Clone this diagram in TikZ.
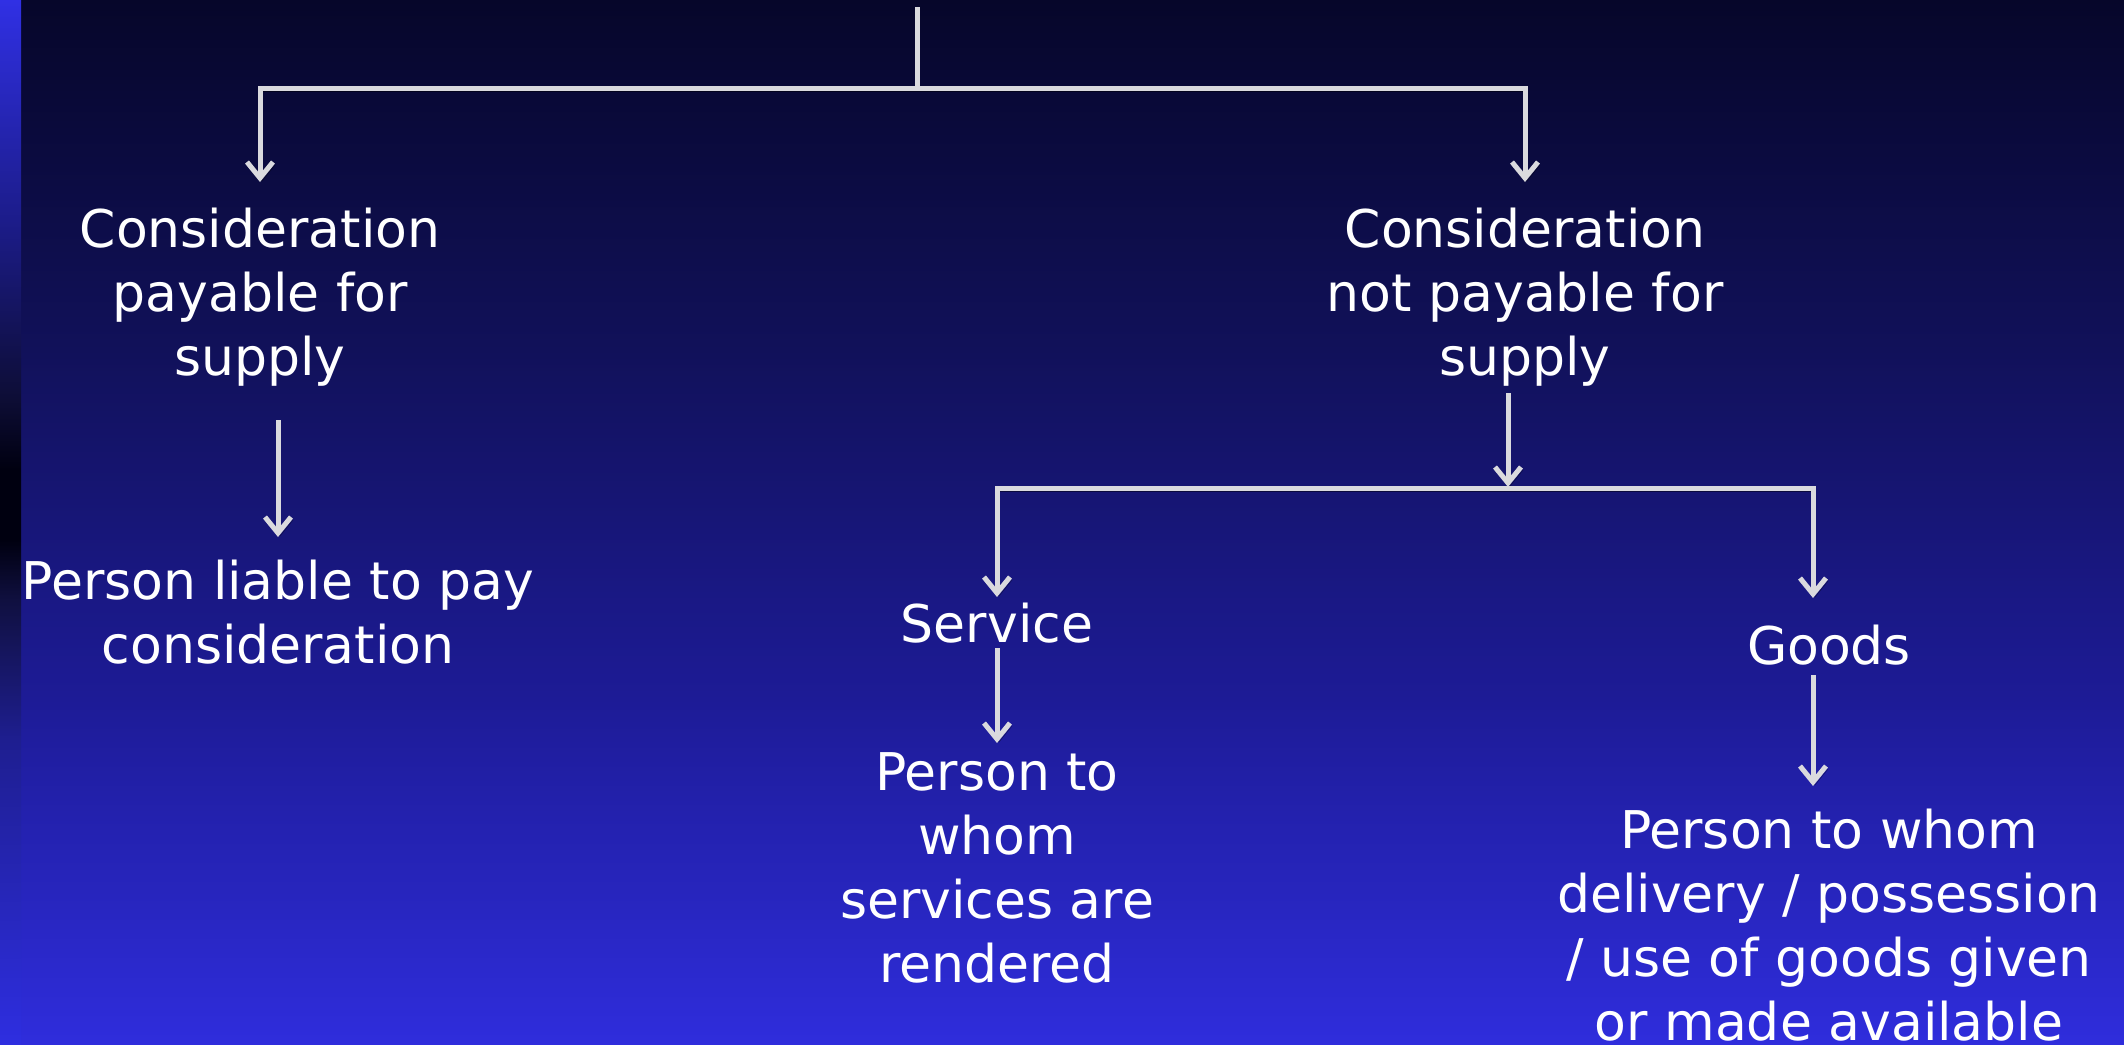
\documentclass[tikz,border=0pt]{standalone}
\usepackage{fontspec}
\setmainfont{DejaVu Sans}
\usetikzlibrary{arrows.meta}
\definecolor{bgtop}{HTML}{06062A}
\definecolor{bgmida}{HTML}{11115A}
\definecolor{bgmidb}{HTML}{1D1B96}
\definecolor{bgbot}{HTML}{2F2DDC}
\definecolor{sA}{HTML}{3030E4}
\definecolor{sB}{HTML}{1C1C8A}
\definecolor{sC}{HTML}{0D0D35}
\definecolor{sD}{HTML}{000010}
\definecolor{sE}{HTML}{101040}
\definecolor{sF}{HTML}{1E1E90}
\definecolor{sG}{HTML}{2E2EE0}
\definecolor{linegray}{RGB}{218,218,222}
\pgfdeclareverticalshading{mainbg}{100bp}{color(0bp)=(bgbot); color(25bp)=(bgbot); color(41.5bp)=(bgmidb); color(58.25bp)=(bgmida); color(75bp)=(bgtop); color(100bp)=(bgtop)}
\pgfdeclareverticalshading{stripbg}{100bp}{color(0bp)=(sG); color(25bp)=(sG); color(39.55bp)=(sF); color(46.25bp)=(sE); color(49.15bp)=(sD); color(52.5bp)=(sD); color(55.85bp)=(sC); color(64.45bp)=(sB); color(75bp)=(sA); color(100bp)=(sA)}
\tikzset{
  barb/.tip={Straight Barb[length=16pt,width=26pt,line join=miter]},
  ln/.style={draw=linegray, line width=5pt, line join=miter,
    preaction={draw=black, opacity=0.45, transform canvas={shift={(2pt,-3pt)}}}},
  txt/.style={text=white, align=center, inner sep=0pt, anchor=base,
    font=\fontsize{52}{64}\selectfont}
}
\begin{document}
\begin{tikzpicture}[x=1pt,y=-1pt]
\useasboundingbox (0,0) rectangle (2124,1044);
\shade[shading=mainbg] (0,0) rectangle (2124,1044);
\shade[shading=stripbg] (0,0) rectangle (21,1044);

% text nodes (anchor = baseline of last line)
\node[txt] (n1) at (260,375) {Consideration\\payable for\\supply};
\node[txt] (n2) at (1525,375) {Consideration\\not payable for\\supply};
\node[txt] (n3) at (278,663) {Person liable to pay\\consideration};
\node[txt] (n4) at (997,642) {Service};
\node[txt] (n5) at (1829,664) {Goods};
\node[txt] (n6) at (997,982) {Person to\\whom\\services are\\rendered};
\node[txt] (n7) at (1829,1040) {Person to whom\\delivery / possession\\/ use of goods given\\or made available};

% connector points
\coordinate (top) at (917,7);
\coordinate (j1) at (917,88);
\coordinate (b1l) at (260,88);
\coordinate (b1r) at (1525,88);
\coordinate (t1) at (260,182);
\coordinate (t2) at (1525,182);
\coordinate (s3) at (278,420);
\coordinate (t3) at (278,537);
\coordinate (s4) at (1508,393);
\coordinate (t4) at (1508,487);
\coordinate (b2l) at (997,488);
\coordinate (b2r) at (1813,488);
\coordinate (t5) at (997,597);
\coordinate (t6) at (1813,598);
\coordinate (s7) at (997,648);
\coordinate (t7) at (997,743);
\coordinate (s8) at (1813,675);
\coordinate (t8) at (1813,786);

% connectors
\draw[ln] (top) -- (j1);
\draw[ln, barb-barb] (t1) -- (b1l) -- (b1r) -- (t2);
\draw[ln, -barb] (s3) -- (t3);
\draw[ln, -barb] (s4) -- (t4);
\draw[ln, barb-barb] (t5) -- (b2l) -- (b2r) -- (t6);
\draw[ln, -barb] (s7) -- (t7);
\draw[ln, -barb] (s8) -- (t8);
\end{tikzpicture}
\end{document}
